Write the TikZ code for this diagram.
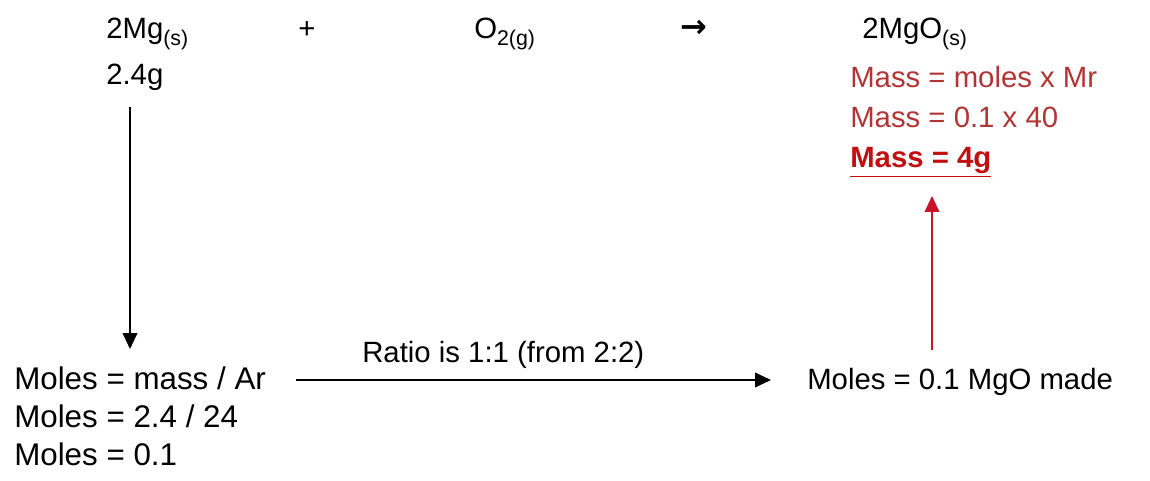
\documentclass[tikz,border=0pt]{standalone}
\usepackage{fontspec}
\setmainfont{Liberation Sans}
\newfontfamily\djv{DejaVu Sans}
\usetikzlibrary{arrows.meta}
\definecolor{txtred}{RGB}{178,52,52}
\definecolor{boldred}{RGB}{192,16,16}
\definecolor{arrred}{RGB}{200,20,40}
\newcommand\chemsub[1]{\raisebox{-0.4ex}{\fontsize{16}{16}\selectfont #1}}
\tikzset{
  lbl/.style={anchor=base west, inner sep=0pt, font=\fontsize{22}{26}\selectfont},
  wlbl/.style={lbl, font=\fontsize{23.5}{26}\selectfont},
  rlbl/.style={lbl, text=txtred},
  arr/.style={line width=1.4pt, -{Triangle[length=12pt,width=11pt]}},
}
\begin{document}
\begin{tikzpicture}[x=0.75pt,y=-0.75pt]
\useasboundingbox (0,0) rectangle (1150,481);
\node[lbl] (mg) at (106,39) {2Mg\chemsub{(s)}};
\node[lbl] (mgmass) at (106,85) {2.4g};
\node[lbl] (plus) at (298,39) {+};
\node[lbl] (o2) at (474,39) {O\chemsub{2(g)}};
\node[lbl, font=\fontsize{24}{26}\selectfont\djv\bfseries] (yields) at (680,38) {→};
\node[lbl] (mgo) at (862,39) {2MgO\chemsub{(s)}};
\node[rlbl] (r1) at (850,88) {Mass = moles x Mr};
\node[rlbl] (r2) at (850,128) {Mass = 0.1 x 40};
\node[lbl, text=boldred, font=\fontsize{22}{26}\selectfont\bfseries] (r3) at (850,168) {\underline{Mass = 4g}};
\node[wlbl] (l1) at (14,389) {Moles = mass / Ar};
\node[wlbl] (l2) at (14,427) {Moles = 2.4 / 24};
\node[wlbl] (l3) at (14,465) {Moles = 0.1};
\node[lbl] (ratio) at (362,362) {Ratio is 1:1 (from 2:2)};
\node[lbl] (made) at (807,389) {Moles = 0.1 MgO made};
\coordinate (a1s) at (130,107);
\coordinate (a1e) at (130,349);
\coordinate (a2s) at (296,380);
\coordinate (a2e) at (771,380);
\coordinate (a3s) at (932,350);
\coordinate (a3e) at (932,196);
\draw[arr] (a1s) -- (a1e);
\draw[arr] (a2s) -- (a2e);
\draw[arr, draw=arrred, fill=arrred] (a3s) -- (a3e);
\end{tikzpicture}
\end{document}
